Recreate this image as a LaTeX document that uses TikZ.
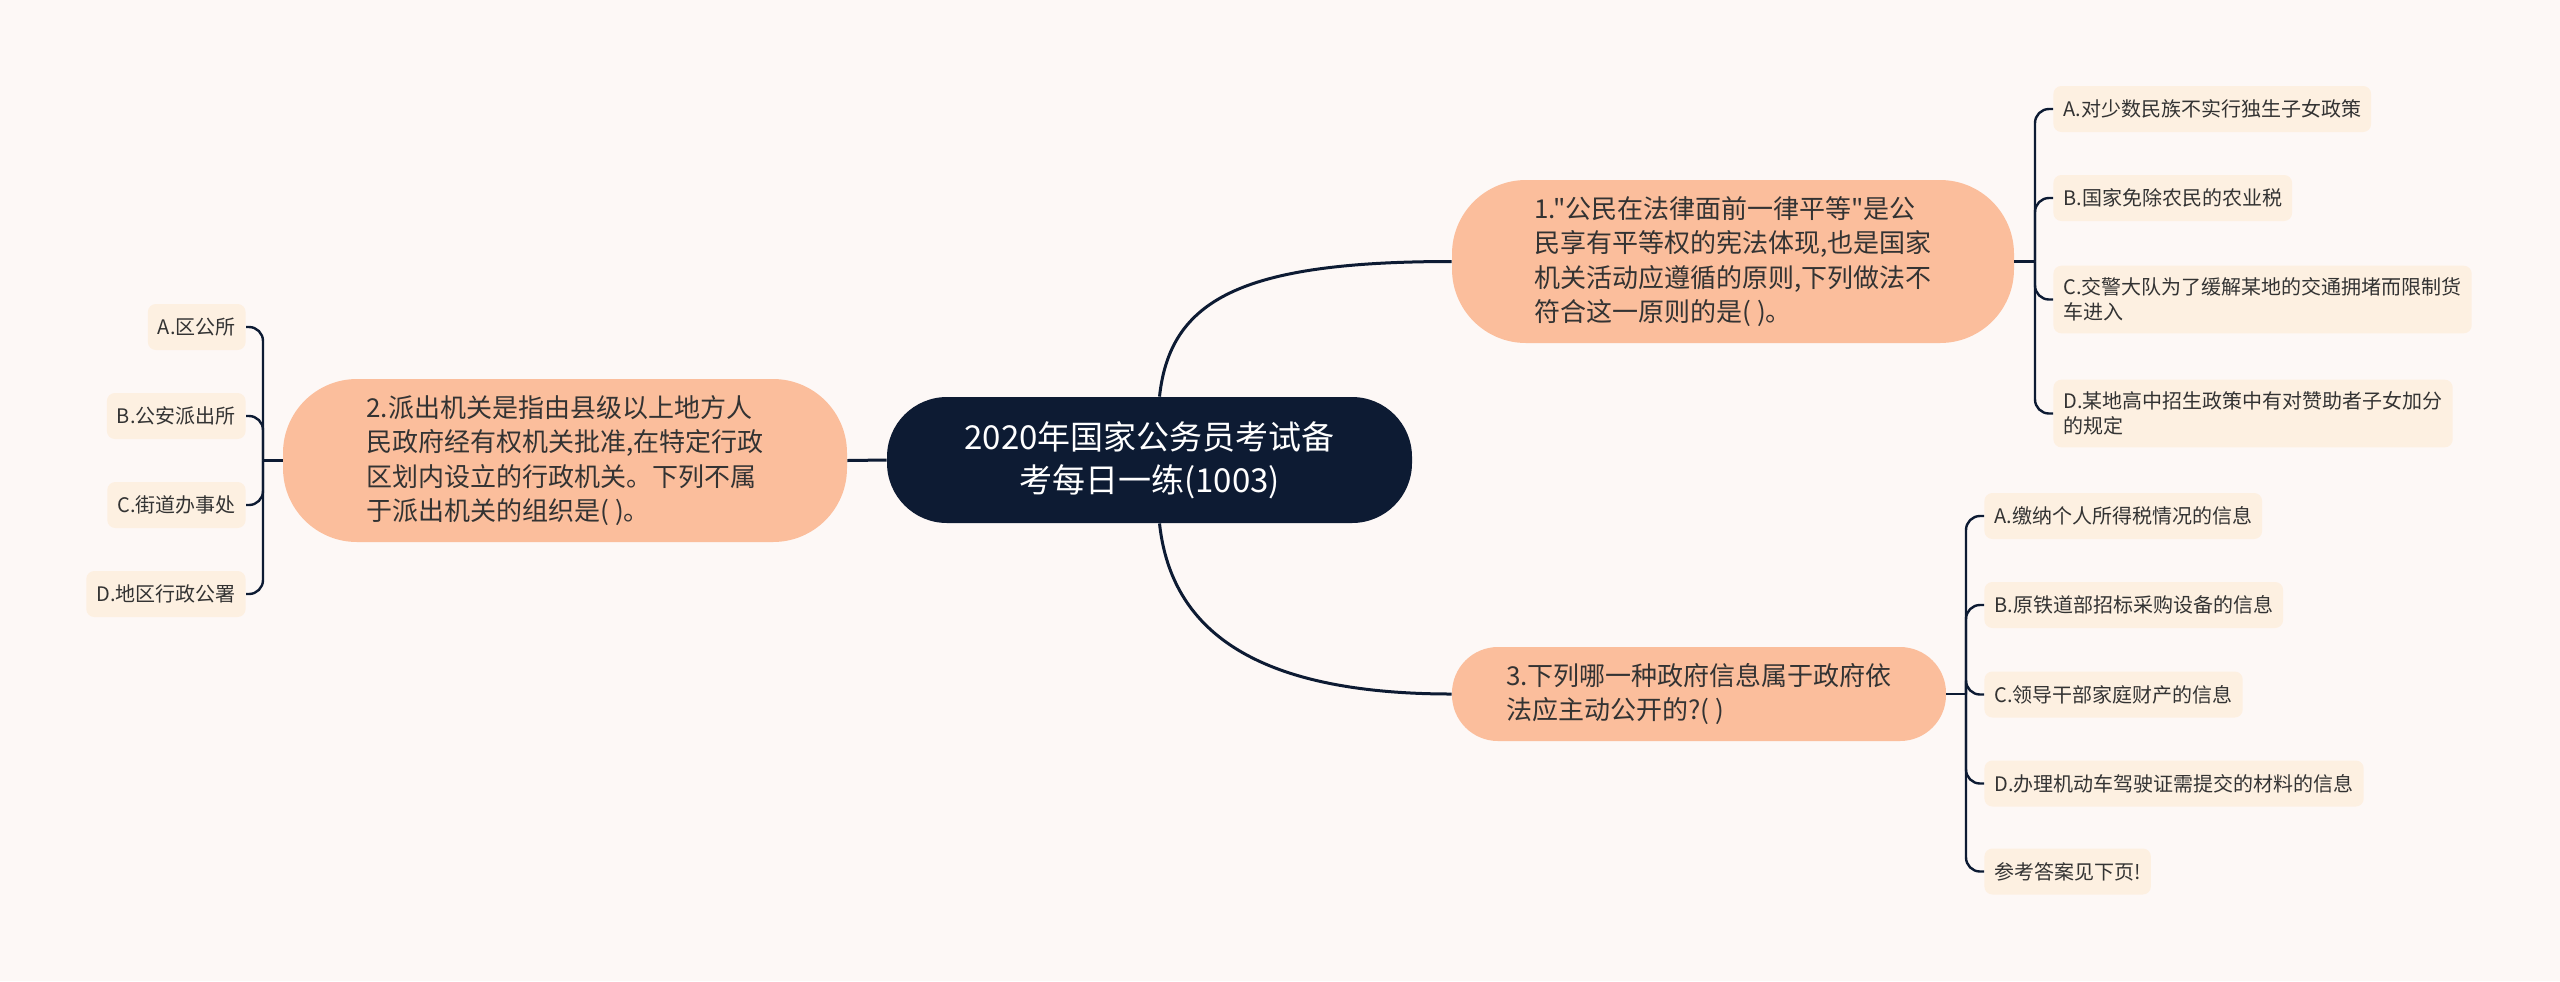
\documentclass[tikz,border=0pt]{standalone}
\usepackage{fontspec}
\setmainfont{Noto Sans CJK SC}[Ligatures=TeXOff]
\definecolor{bgc}{HTML}{FDF8F6}
\definecolor{peach}{HTML}{FBBE9C}
\definecolor{cream}{HTML}{FDF0E1}
\definecolor{navy}{HTML}{0D1B33}
\definecolor{txt}{HTML}{333333}
\begin{document}
\begin{tikzpicture}[x=0.5pt,y=-0.5pt,
  topic/.style={fill=peach, text=txt, align=left, inner sep=0pt,
    font=\fontsize{13pt}{17.25pt}\selectfont},
  rootnode/.style={fill=navy, text=white, align=center, inner sep=0pt,
    font=\fontsize{16.5pt}{21.5pt}\selectfont},
  leaf/.style={fill=cream, text=txt, align=left, rounded corners=4pt,
    inner xsep=5pt, inner ysep=6pt, minimum height=23pt,
    font=\fontsize{10pt}{12.5pt}\selectfont},
  mainline/.style={draw=navy, line width=1.5pt},
  subline/.style={draw=navy, line width=1.2pt, rounded corners=7pt}]
\fill[bgc] (0,0) rectangle (2560,981);
\useasboundingbox (0,0) rectangle (2560,981);

% root
\node[rootnode, minimum width=262.5pt, minimum height=63pt, rounded corners=30pt] (ctr) at (1149.5,460)
  {2020年国家公务员考试备\\考每日一练(1003)};

% topics
\node[topic, minimum width=281pt, minimum height=81.5pt, rounded corners=37pt] (q1) at (1733,261.5)
  {1."公民在法律面前一律平等"是公\\民享有平等权的宪法体现,也是国家\\机关活动应遵循的原则,下列做法不\\符合这一原则的是( )。};
\node[topic, minimum width=282pt, minimum height=81.5pt, rounded corners=37pt] (q2) at (565,460.5)
  {2.派出机关是指由县级以上地方人\\民政府经有权机关批准,在特定行政\\区划内设立的行政机关。下列不属\\于派出机关的组织是( )。};
\node[topic, minimum width=247pt, minimum height=47pt, rounded corners=23pt] (q3) at (1699,694)
  {3.下列哪一种政府信息属于政府依\\法应主动公开的?( )};

% leaves of q1
\node[leaf, anchor=west] (a1) at (2053,109) {A.对少数民族不实行独生子女政策};
\node[leaf, anchor=west] (b1) at (2053,198) {B.国家免除农民的农业税};
\node[leaf, anchor=west] (c1) at (2053,299.5) {C.交警大队为了缓解某地的交通拥堵而限制货\\车进入};
\node[leaf, anchor=west] (d1) at (2053,413.5) {D.某地高中招生政策中有对赞助者子女加分\\的规定};

% leaves of q2
\node[leaf, anchor=east] (a2) at (246,327) {A.区公所};
\node[leaf, anchor=east] (b2) at (246,416) {B.公安派出所};
\node[leaf, anchor=east] (c2) at (246,505) {C.街道办事处};
\node[leaf, anchor=east] (d2) at (246,594) {D.地区行政公署};

% leaves of q3
\node[leaf, anchor=west] (a3) at (1984,516) {A.缴纳个人所得税情况的信息};
\node[leaf, anchor=west] (b3) at (1984,605) {B.原铁道部招标采购设备的信息};
\node[leaf, anchor=west] (c3) at (1984,694.5) {C.领导干部家庭财产的信息};
\node[leaf, anchor=west] (d3) at (1984,783.5) {D.办理机动车驾驶证需提交的材料的信息};
\node[leaf, anchor=west] (e3) at (1984,871.5) {参考答案见下页!};

% main connectors
\draw[mainline] ([xshift=5pt]ctr.north) .. controls (1170,300) and (1240,261.5) .. (q1.west);
\draw[mainline] ([xshift=5pt]ctr.south) .. controls (1170,620) and (1240,694) .. (q3.west);
\draw[mainline] (ctr.west) -- (q2.east);

% brackets
\draw[subline] (q1.east) -- (2035,261.5) coordinate (j1);
\foreach \n in {a1,b1,c1,d1} \draw[subline] (j1) |- (\n.west);
\draw[subline] (q2.west) -- (263,460.5) coordinate (j2);
\foreach \n in {a2,b2,c2,d2} \draw[subline] (j2) |- (\n.east);
\draw[subline] (q3.east) -- (1966,694) coordinate (j3);
\foreach \n in {a3,b3,c3,d3,e3} \draw[subline] (j3) |- (\n.west);
\end{tikzpicture}
\end{document}
